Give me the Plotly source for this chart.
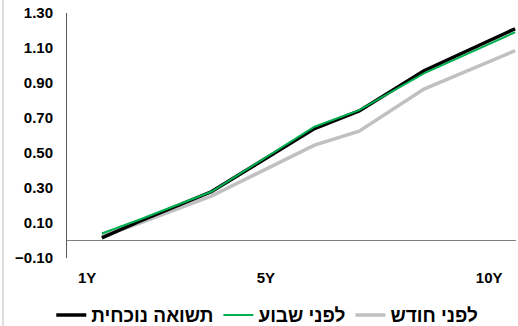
import plotly.graph_objects as go

# maturity (years) of each point on the curve
maturity = [1.33, 2.18, 3.79, 6.09, 7.09, 8.54, 10.58]
current_yield = [0.015, 0.11, 0.28, 0.64, 0.74, 0.97, 1.21]   # תשואה נוכחית
week_ago = [0.04, 0.12, 0.28, 0.65, 0.745, 0.955, 1.19]       # לפני שבוע
month_ago = [0.025, 0.10, 0.255, 0.545, 0.625, 0.865, 1.085]  # לפני חודש

x_tick_vals = [1, 5, 10]
x_tick_text = ["1Y", "5Y", "10Y"]
y_tick_vals = [-0.10, 0.10, 0.30, 0.50, 0.70, 0.90, 1.10, 1.30]

fig = go.Figure()
fig.add_trace(go.Scatter(x=maturity, y=month_ago, mode="lines", name="לפני חודש",
                         line=dict(color="#c0c0c0", width=3.5), legendrank=3))
fig.add_trace(go.Scatter(x=maturity, y=current_yield, mode="lines", name="תשואה נוכחית",
                         line=dict(color="#000000", width=3.5), legendrank=1))
fig.add_trace(go.Scatter(x=maturity, y=week_ago, mode="lines", name="לפני שבוע",
                         line=dict(color="#00b050", width=2), legendrank=2))

font_family = "Liberation Sans, Arial, sans-serif"

fig.update_layout(
    width=518, height=326,
    margin=dict(l=67, r=2, t=13, b=68, autoexpand=False),
    paper_bgcolor="white", plot_bgcolor="white",
    font=dict(family=font_family, size=15, color="#000000"),
    showlegend=True,
    legend=dict(orientation="h", x=-0.035, xanchor="left", y=-0.233, yanchor="middle",
                font=dict(family=font_family, size=19, color="#000000", weight="bold"),
                bgcolor="rgba(0,0,0,0)"),
    xaxis=dict(range=[0.55, 10.6], tickvals=x_tick_vals, ticktext=x_tick_text,
               showgrid=False, zeroline=False, showline=False, automargin=False,
               ticks="outside", ticklen=6, tickcolor="rgba(0,0,0,0)",
               tickfont=dict(family=font_family, size=15, weight="bold")),
    yaxis=dict(range=[-0.10, 1.30], tickvals=y_tick_vals, tickformat=".2f",
               showgrid=False, zeroline=True, zerolinecolor="#808080", zerolinewidth=1,
               showline=True, linecolor="#595959", linewidth=1, automargin=False,
               ticks="outside", ticklen=10, tickcolor="rgba(0,0,0,0)",
               tickfont=dict(family=font_family, size=15, weight="bold")),
    shapes=[dict(type="line", xref="paper", yref="paper",
                 x0=-0.1425, x1=-0.1425, y0=-0.3, y1=1.06,
                 line=dict(color="#bfbfbf", width=1))],
)

fig.write_html("out.html")
